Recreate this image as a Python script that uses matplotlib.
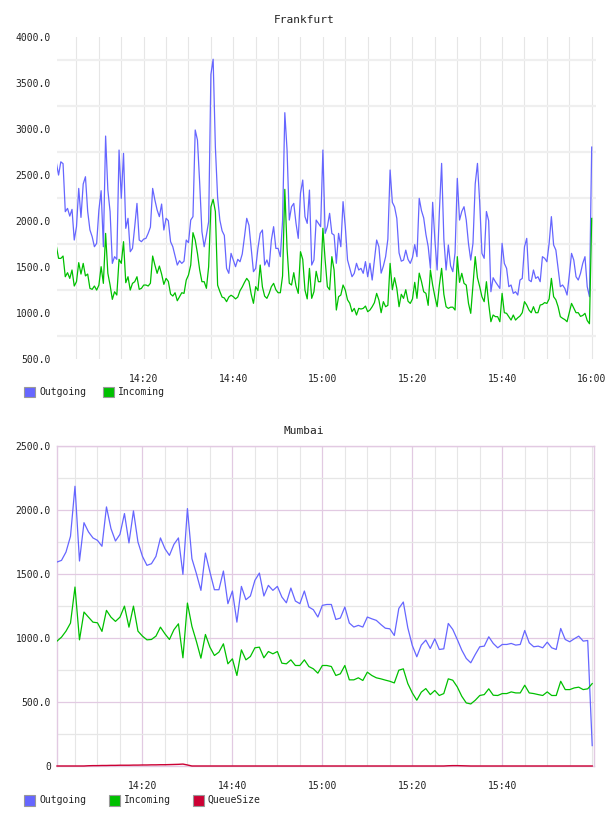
import numpy as np
import matplotlib
matplotlib.use("Agg")
import matplotlib.pyplot as plt
from matplotlib.patches import Rectangle
from matplotlib.ticker import FuncFormatter, FixedLocator

# ---------------- data ----------------
# Frankfurt: samples every 30 s from 14:00:30 to 16:00:00 (minutes after 14:00)
fr_minutes = np.arange(0.5, 120.01, 0.5)
fr_outgoing = [
    2630, 2496, 2640, 2620, 2098, 2134, 2050, 2123, 1790, 1935,
    2351, 2036, 2399, 2478, 2100, 1900, 1826, 1717, 1754, 2116,
    2326, 1717, 2920, 2333, 2098, 1536, 1609, 1580, 2768, 2243,
    2732, 1917, 2026, 1663, 1699, 1935, 2188, 1790, 1772, 1800,
    1808, 1862, 1930, 2351, 2225, 2116, 2044, 2181, 1899, 2026,
    2000, 1772, 1717, 1616, 1518, 1565, 1536, 1560, 1790, 1761,
    2007, 2044, 2986, 2877, 2406, 1881, 1717, 1844, 1989, 3590,
    3755, 2800, 2254, 2007, 1890, 1840, 1482, 1428, 1645, 1573,
    1500, 1580, 1554, 1638, 1826, 2026, 1950, 1700, 1446, 1482,
    1700, 1862, 1899, 1518, 1573, 1500, 1790, 1935, 1699, 1699,
    1609, 2000, 3174, 2768, 2007, 2152, 2188, 1971, 1808, 2300,
    2442, 2044, 1971, 2333, 1518, 1573, 2007, 1971, 1935, 2768,
    1862, 1935, 2080, 1862, 1844, 1537, 1862, 1717, 2207, 1935,
    1573, 1482, 1391, 1428, 1537, 1464, 1482, 1428, 1555, 1391,
    1537, 1355, 1573, 1790, 1717, 1430, 1507, 1609, 1800, 2551,
    2200, 2150, 2025, 1650, 1560, 1572, 1680, 1580, 1536, 1600,
    1740, 1609, 2243, 2110, 2030, 1850, 1720, 1482, 2200, 1790,
    1464, 2100, 2623, 1800, 1464, 1736, 1510, 1446, 1650, 2460,
    2007, 2100, 2152, 2007, 1750, 1572, 1754, 2400, 2623, 2200,
    1645, 1591, 2100, 2000, 1228, 1380, 1337, 1301, 1264, 1754,
    1536, 1482, 1283, 1301, 1210, 1228, 1192, 1355, 1373, 1717,
    1808, 1355, 1337, 1464, 1373, 1391, 1337, 1609, 1591, 1554,
    1754, 2044, 1736, 1681, 1482, 1283, 1301, 1264, 1192, 1409,
    1645, 1572, 1391, 1355, 1427, 1536, 1609, 1283, 1174, 2800,
]
fr_incoming = [
    1725, 1591, 1590, 1616, 1391, 1435, 1373, 1464, 1290, 1337,
    1544, 1420, 1536, 1400, 1420, 1265, 1254, 1290, 1246, 1300,
    1500, 1319, 1862, 1428, 1300, 1145, 1228, 1192, 1580, 1536,
    1772, 1326, 1391, 1246, 1319, 1337, 1391, 1254, 1265, 1300,
    1301, 1290, 1320, 1616, 1518, 1428, 1507, 1420, 1308, 1373,
    1340, 1203, 1181, 1217, 1130, 1174, 1217, 1210, 1355, 1410,
    1518, 1870, 1790, 1645, 1464, 1337, 1337, 1265, 1500, 2150,
    2232, 2100, 1300, 1230, 1170, 1160, 1120, 1170, 1190, 1174,
    1150, 1170, 1239, 1280, 1330, 1373, 1340, 1200, 1102, 1283,
    1240, 1518, 1280, 1180, 1156, 1210, 1283, 1319, 1250, 1217,
    1217, 1400, 2341, 1700, 1320, 1301, 1435, 1290, 1210, 1663,
    1580, 1246, 1150, 1482, 1156, 1228, 1450, 1337, 1337, 1917,
    1573, 1283, 1250, 1609, 1464, 1029, 1174, 1192, 1301, 1246,
    1140, 1102, 1011, 1047, 975, 1047, 1040, 1047, 1072, 1011,
    1029, 1065, 1109, 1210, 1138, 1000, 1120, 1065, 1080, 1536,
    1250, 1380, 1264, 1065, 1200, 1156, 1250, 1125, 1101, 1150,
    1330, 1156, 1430, 1340, 1228, 1210, 1080, 1464, 1300, 1174,
    1065, 1300, 1482, 1200, 1065, 1047, 1060, 1060, 1029, 1609,
    1330, 1428, 1319, 1300, 1101, 993, 1301, 1609, 1380, 1283,
    1174, 1120, 1337, 1101, 902, 975, 957, 957, 902, 1210,
    1000, 993, 957, 920, 975, 920, 945, 964, 1000, 1120,
    1083, 1029, 1000, 1065, 1000, 1000, 1083, 1090, 1110, 1101,
    1150, 1373, 1174, 1140, 1065, 957, 939, 925, 902, 1000,
    1101, 1050, 1000, 1000, 960, 970, 993, 915, 880, 2025,
]

# Mumbai: samples every minute from 14:01 to 16:00
mu_minutes = np.arange(1, 121, 1)
mu_outgoing = [
    1591, 1604, 1669, 1792, 2182, 1599, 1898, 1826, 1779, 1760,
    1714, 2021, 1852, 1755, 1807, 1969, 1740, 1990, 1747, 1635,
    1565, 1578, 1635, 1779, 1695, 1643, 1729, 1779, 1495, 2008,
    1617, 1500, 1370, 1661, 1513, 1375, 1375, 1521, 1266, 1365,
    1122, 1401, 1297, 1326, 1448, 1505, 1326, 1409, 1370, 1401,
    1318, 1273, 1388, 1287, 1266, 1365, 1240, 1219, 1162, 1253,
    1260, 1260, 1143, 1154, 1240, 1115, 1084, 1097, 1084, 1162,
    1148, 1136, 1104, 1075, 1070, 1018, 1229, 1279, 1078, 940,
    852, 943, 982, 917, 992, 909, 914, 1112, 1065, 987,
    904, 839, 805, 870, 930, 935, 1008, 956, 922, 948,
    948, 956, 943, 948, 1057, 961, 930, 935, 922, 966,
    922, 909, 1073, 987, 969, 992, 1013, 974, 979, 159,
]
mu_incoming = [
    974, 1005, 1052, 1115, 1396, 984, 1201, 1161, 1122, 1117,
    1050, 1214, 1161, 1128, 1161, 1247, 1083, 1247, 1052, 1013,
    984, 987, 1013, 1083, 1031, 987, 1063, 1109, 844, 1271,
    1089, 971, 841, 1026, 927, 862, 888, 953, 797, 836,
    706, 906, 828, 854, 922, 927, 844, 893, 875, 893,
    802, 797, 828, 784, 784, 828, 776, 758, 724, 784,
    784, 776, 706, 719, 784, 672, 672, 688, 667, 732,
    706, 688, 680, 670, 661, 648, 747, 758, 643, 570,
    513, 576, 604, 557, 589, 550, 565, 680, 669, 617,
    544, 492, 484, 513, 550, 557, 602, 552, 550, 565,
    565, 578, 570, 570, 630, 570, 565, 557, 550, 578,
    550, 550, 661, 596, 596, 609, 615, 596, 602, 643,
]
mu_queue = [
    0, 0, 0, 0, 0, 0, 0, 2, 3, 3,
    4, 4, 5, 5, 6, 6, 6, 7, 7, 8,
    8, 9, 9, 10, 10, 11, 12, 13, 15, 8,
    0, 0, 0, 0, 0, 0, 0, 0, 0, 0,
    0, 0, 0, 0, 0, 0, 0, 0, 0, 0,
    0, 0, 0, 0, 0, 0, 0, 0, 0, 0,
    0, 0, 0, 0, 0, 0, 0, 0, 0, 0,
    0, 0, 0, 0, 0, 0, 0, 0, 0, 0,
    0, 0, 0, 0, 0, 0, 0, 2, 3, 3,
    2, 1, 0, 0, 0, 0, 0, 0, 0, 0,
    0, 0, 0, 0, 0, 0, 0, 0, 0, 0,
    0, 0, 0, 0, 0, 0, 0, 0, 0, 0,
]

fr_yticks = [500, 1000, 1500, 2000, 2500, 3000, 3500, 4000]
fr_ytick_labels = ["500.0", "1000.0", "1500.0", "2000.0", "2500.0", "3000.0", "3500.0", "4000.0"]
mu_yticks = [0, 500, 1000, 1500, 2000, 2500]
mu_ytick_labels = ["0", "500.0", "1000.0", "1500.0", "2000.0", "2500.0"]
fr_xticks = [20, 40, 60, 80, 100, 120]
mu_xticks = [20, 40, 60, 80, 100]

# ---------------- style ----------------
W, H = 608, 816
plt.rcParams['font.family'] = ['DejaVu Sans Mono']
BLUE = '#6666ff'
GREEN = '#00c000'
RED = '#cc0033'
VGRID = '#e6e6e6'
HGRID = '#efefef'
PURPLE = '#e2cae2'
TXT = '#222222'

fig = plt.figure(figsize=(W / 100, H / 100), dpi=100)


def px_axes(l, t, r, b):
    return fig.add_axes([l / W, 1 - b / H, (r - l) / W, (b - t) / H])


def hhmm(m, pos=None):
    m = int(round(m))
    return f"{14 + m // 60}:{m % 60:02d}"


# ---------------- Frankfurt ----------------
ax1 = px_axes(57, 36.7, 596, 358.7)
ax1.set_xlim(0.65, 120.96)
ax1.set_ylim(500, 4000)
ax1.set_axisbelow(True)
ax1.xaxis.set_major_locator(FixedLocator(fr_xticks))
ax1.xaxis.set_minor_locator(FixedLocator(np.arange(5, 121, 5)))
ax1.xaxis.set_major_formatter(FuncFormatter(hhmm))
ax1.set_yticks(fr_yticks)
ax1.set_yticklabels(fr_ytick_labels)
ax1.yaxis.set_minor_locator(FixedLocator(np.arange(750, 4000, 500)))
ax1.grid(which='both', axis='x', color=VGRID, lw=0.8)
ax1.grid(which='minor', axis='y', color=HGRID, lw=1.6)
ax1.grid(which='major', axis='y', visible=False)
for s in ax1.spines.values():
    s.set_visible(False)
ax1.tick_params(which='both', length=0, labelsize=7, colors=TXT)
ax1.tick_params(axis='x', pad=11)
ax1.tick_params(axis='y', pad=4.5)
ax1.plot(fr_minutes, fr_outgoing, color=BLUE, lw=0.9, zorder=3)
ax1.plot(fr_minutes, fr_incoming, color=GREEN, lw=0.9, zorder=4)

# ---------------- Mumbai ----------------
ax2 = px_axes(57, 445.5, 594, 766)
ax2.set_xlim(1.0, 120.4)
ax2.set_ylim(0, 2500)
ax2.set_axisbelow(True)
ax2.xaxis.set_major_locator(FixedLocator(mu_xticks))
ax2.xaxis.set_minor_locator(FixedLocator(np.arange(5, 121, 5)))
ax2.xaxis.set_major_formatter(FuncFormatter(hhmm))
ax2.set_yticks(mu_yticks)
ax2.set_yticklabels(mu_ytick_labels)
ax2.yaxis.set_minor_locator(FixedLocator(np.arange(250, 2500, 500)))
ax2.grid(which='minor', axis='x', color=VGRID, lw=0.8)
ax2.grid(which='major', axis='x', color=PURPLE, lw=0.9)
ax2.grid(which='minor', axis='y', color=VGRID, lw=0.9)
ax2.grid(which='major', axis='y', color=PURPLE, lw=0.9)
for s in ax2.spines.values():
    s.set_color(PURPLE)
    s.set_linewidth(1.0)
ax2.tick_params(which='both', length=0, labelsize=7, colors=TXT)
ax2.tick_params(axis='x', pad=11)
ax2.tick_params(axis='y', pad=4.5)
ax2.plot(mu_minutes, mu_outgoing, color=BLUE, lw=0.9, zorder=3)
ax2.plot(mu_minutes, mu_incoming, color=GREEN, lw=0.9, zorder=4)
ax2.plot(mu_minutes, mu_queue, color=RED, lw=1.0, zorder=5, clip_on=False)

# ---------------- titles ----------------
fig.text(0.5, 1 - 20 / H, "Frankfurt", ha='center', va='center', fontsize=8, color=TXT)
fig.text(0.5, 1 - 431 / H, "Mumbai", ha='center', va='center', fontsize=8, color=TXT)


# ---------------- legends ----------------
def legend(items, y):
    for x, label, color in items:
        fig.add_artist(Rectangle((x / W, 1 - (y + 5.5) / H), 11 / W, 11 / H,
                                 transform=fig.transFigure, facecolor=color,
                                 edgecolor='#999999', lw=0.8))
        fig.text((x + 15) / W, 1 - y / H, label, ha='left', va='center',
                 fontsize=7, color=TXT)


legend([(24, "Outgoing", BLUE), (103, "Incoming", GREEN)], 392)
legend([(24, "Outgoing", BLUE), (109, "Incoming", GREEN), (193, "QueueSize", RED)], 800)

fig.savefig("out.png", dpi=100, facecolor='white')
